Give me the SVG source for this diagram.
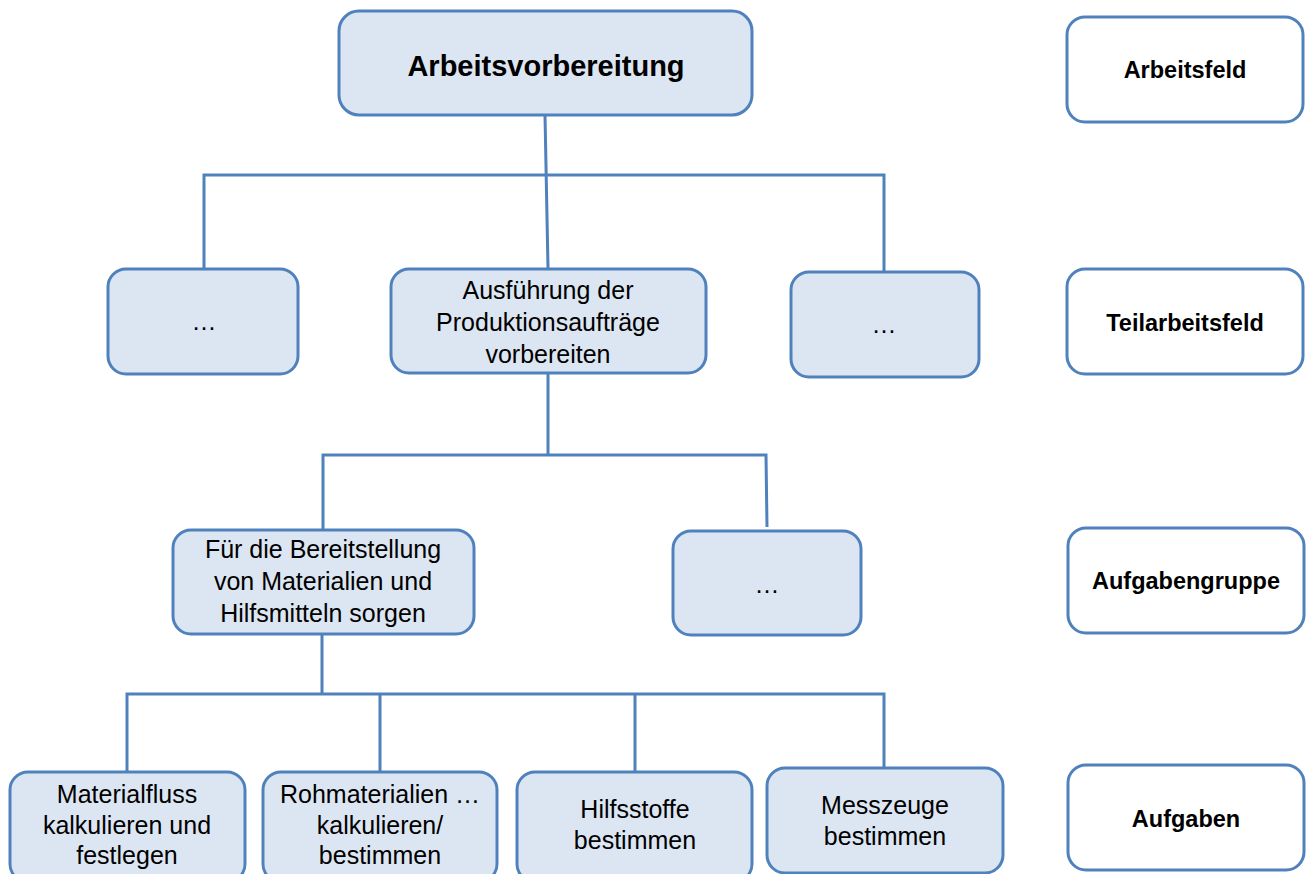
<svg xmlns="http://www.w3.org/2000/svg" width="1308" height="874" viewBox="0 0 1308 874">
<style>
.n{fill:#dce6f2;stroke:#4f81bd;stroke-width:3}
.l{fill:#ffffff;stroke:#4f81bd;stroke-width:3}
.c{fill:none;stroke:#4f81bd;stroke-width:3}
text{font-family:"Liberation Sans",Arial,sans-serif;fill:#000;text-anchor:middle}
.t{font-size:25px}
.b{font-size:23.5px;font-weight:bold}
.h{font-size:29px;font-weight:bold}
</style>
<rect width="1308" height="874" fill="#ffffff"/>
<g id="connectors">
<path class="c" d="M545,115 L548,268"/>
<path class="c" d="M204,269 L204,175 L884,175 L884,272"/>
<path class="c" d="M548,373 L548,455"/>
<path class="c" d="M323,530 L323,455 L766,455 L767,527"/>
<path class="c" d="M322,634 L322,694"/>
<path class="c" d="M127,772 L127,694 L884,694 L884,768"/>
<path class="c" d="M380,694 L380,772"/>
<path class="c" d="M635,694 L635,772"/>
</g>
<g id="n-arbeitsvorbereitung">
<rect class="n" x="339" y="11" width="413" height="104" rx="20"/>
<text class="h" x="546" y="76">Arbeitsvorbereitung</text>
</g>
<g id="n-teil-left">
<rect class="n" x="108" y="269" width="190" height="105" rx="18"/>
<text class="t" x="204" y="330">…</text>
</g>
<g id="n-teil-mid">
<rect class="n" x="391" y="269" width="315" height="104" rx="18"/>
<text class="t" x="548" y="299">Ausführung der</text>
<text class="t" x="548" y="331">Produktionsaufträge</text>
<text class="t" x="548" y="363">vorbereiten</text>
</g>
<g id="n-teil-right">
<rect class="n" x="791" y="272" width="188" height="105" rx="18"/>
<text class="t" x="884" y="333">…</text>
</g>
<g id="n-gruppe-left">
<rect class="n" x="173" y="530" width="301" height="104" rx="18"/>
<text class="t" x="323" y="558">Für die Bereitstellung</text>
<text class="t" x="323" y="590">von Materialien und</text>
<text class="t" x="323" y="622">Hilfsmitteln sorgen</text>
</g>
<g id="n-gruppe-right">
<rect class="n" x="673" y="531" width="188" height="104" rx="18"/>
<text class="t" x="767" y="593">…</text>
</g>
<g id="n-aufgabe-1">
<rect class="n" x="10" y="772" width="235" height="110" rx="18"/>
<text class="t" x="127" y="803">Materialfluss</text>
<text class="t" x="127" y="834">kalkulieren und</text>
<text class="t" x="127" y="864">festlegen</text>
</g>
<g id="n-aufgabe-2">
<rect class="n" x="263" y="772" width="234" height="110" rx="18"/>
<text class="t" x="380" y="803">Rohmaterialien …</text>
<text class="t" x="380" y="834">kalkulieren/</text>
<text class="t" x="380" y="864">bestimmen</text>
</g>
<g id="n-aufgabe-3">
<rect class="n" x="517" y="772" width="235" height="110" rx="18"/>
<text class="t" x="635" y="818">Hilfsstoffe</text>
<text class="t" x="635" y="849">bestimmen</text>
</g>
<g id="n-aufgabe-4">
<rect class="n" x="767" y="768" width="236" height="105" rx="18"/>
<text class="t" x="885" y="814">Messzeuge</text>
<text class="t" x="885" y="845">bestimmen</text>
</g>
<g id="legend-arbeitsfeld">
<rect class="l" x="1067" y="17" width="236" height="105" rx="18"/>
<text class="b" x="1185" y="78">Arbeitsfeld</text>
</g>
<g id="legend-teilarbeitsfeld">
<rect class="l" x="1067" y="269" width="236" height="105" rx="18"/>
<text class="b" x="1185" y="331">Teilarbeitsfeld</text>
</g>
<g id="legend-aufgabengruppe">
<rect class="l" x="1068" y="528" width="236" height="105" rx="18"/>
<text class="b" x="1186" y="589">Aufgabengruppe</text>
</g>
<g id="legend-aufgaben">
<rect class="l" x="1068" y="765" width="236" height="105" rx="18"/>
<text class="b" x="1186" y="827">Aufgaben</text>
</g>
</svg>
